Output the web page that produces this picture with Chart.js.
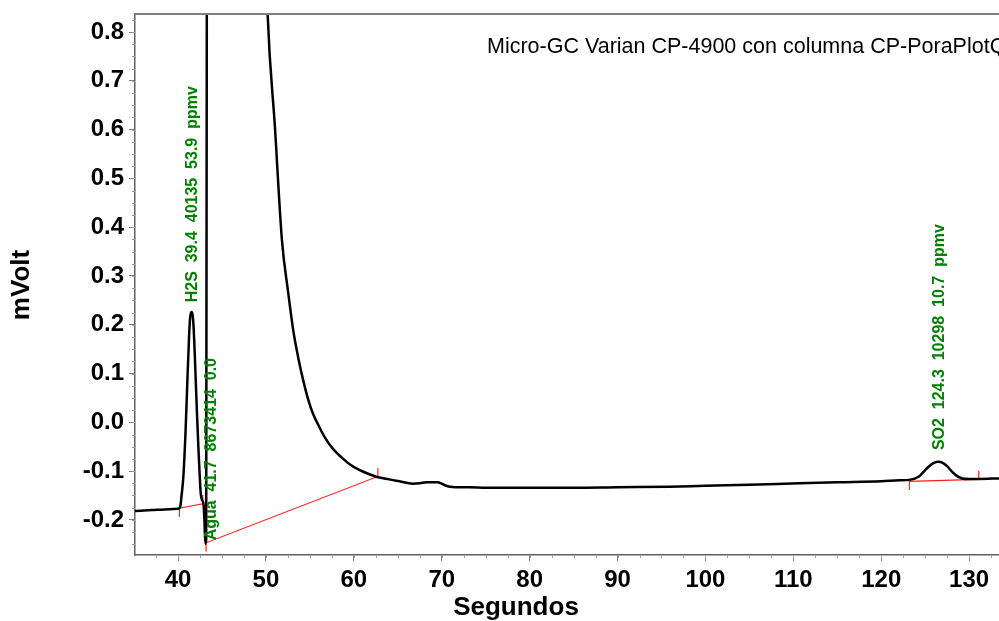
<!DOCTYPE html>
<html>
<head>
<meta charset="utf-8">
<script src="https://cdn.jsdelivr.net/npm/chart.js@4.4.1/dist/chart.umd.min.js"></script>
<style>
  html, body { margin: 0; padding: 0; background: #fff; overflow: hidden; }
  #chart { display: block; }
</style>
</head>
<body>
<canvas id="chart" width="999" height="621"></canvas>
<script>
// === DATA ===
const timeSec = [35.1, 37, 39, 40.0, 40.23, 40.4, 40.6, 40.85, 41.06, 41.25, 41.36, 41.5, 41.6, 41.74, 41.9, 42.01, 42.15, 42.31, 42.45, 42.58, 42.75, 42.88, 43.0, 43.1, 43.2, 43.3, 43.4,
  49.0, 49.5, 50.19, 51.02, 51.82, 52.5, 53.1, 53.7, 54.24, 54.8, 55.34, 56.0, 56.7, 57.6, 58.6, 59.6, 60.68, 61.7, 62.65, 64.0, 65.2, 66.7, 67.5, 68.26, 69.55, 70.0, 70.68, 72, 73.18, 75,
  80, 85, 90, 95.9, 100, 105, 110.68, 115, 120, 122.05, 123.18, 124.3, 124.9, 125.45, 126.0, 126.5, 127.0, 127.5, 128.0, 128.4, 128.8, 129.2, 130, 131.1, 133.4];
const signalMv = [-0.182, -0.180, -0.178, -0.177, -0.174, -0.150, -0.112, -0.020, 0.086, 0.175, 0.212, 0.226, 0.225, 0.203, 0.140, 0.086, 0.020, -0.051, -0.105, -0.146, -0.160, -0.166, -0.200, -0.249, -0.240, 1.5, 3.0,
  3.0, 1.3, 0.837, 0.605, 0.373, 0.270, 0.189, 0.130, 0.086, 0.047, 0.018, -0.007, -0.031, -0.054, -0.072, -0.087, -0.098, -0.106, -0.112, -0.117, -0.121, -0.126, -0.125, -0.123, -0.123, -0.126, -0.131, -0.133, -0.133, -0.134,
  -0.134, -0.134, -0.133, -0.132, -0.130, -0.128, -0.125, -0.123, -0.121, -0.119, -0.118, -0.111, -0.100, -0.090, -0.083, -0.081, -0.083, -0.090, -0.100, -0.107, -0.112, -0.115, -0.116, -0.116, -0.115];

// baselines de integracion (rojo)
const baseStartX = [40.15, 43.18, 123.2];
const baseStartY = [-0.176, -0.247, -0.121];
const baseEndX = [42.81, 62.73, 131.1];
const baseEndY = [-0.167, -0.111, -0.117];

// etiquetas de picos
const peakNames = ["H2S", "Agua", "SO2"];
const peakRetTimes = ["39.4", "41.7", "124.3"];
const peakAreas = ["40135", "8673414", "10298"];
const peakConc = ["53.9", "0.0", "10.7"];
const peakUnits = ["ppmv", "", "ppmv"];
const peakLabelX = [41.6, 43.86, 126.6];
const peakLabelY = [0.246, -0.242, -0.057];

const xTicks = [40, 50, 60, 70, 80, 90, 100, 110, 120, 130];
const yTicks = [-0.2, -0.1, 0.0, 0.1, 0.2, 0.3, 0.4, 0.5, 0.6, 0.7, 0.8];
const xRange = [35.1, 133.4];
const yRange = [-0.272, 0.837];

const chartTitle = "Micro-GC Varian CP-4900 con columna CP-PoraPlotQ";
const xTitle = "Segundos";
const yTitle = "mVolt";

// === STYLE ===
const FONT = "'Liberation Sans', Arial, sans-serif";
const MARK = 0.018; // largo de las marcas rojas (mVolt)

const datasets = [{
  data: timeSec.map((t, i) => ({ x: t, y: signalMv[i] })),
  borderColor: "#000",
  borderWidth: 2.5,
  pointRadius: 0,
  cubicInterpolationMode: "monotone",
  clip: 0
}];

baseStartX.forEach((sx, i) => {
  datasets.push({
    data: [
      { x: sx, y: baseStartY[i] - MARK },
      { x: sx, y: baseStartY[i] },
      { x: baseEndX[i], y: baseEndY[i] },
      { x: baseEndX[i], y: baseEndY[i] + MARK }
    ],
    borderColor: "#ff2020",
    borderWidth: 1.2,
    pointRadius: 0,
    tension: 0
  });
});

const decoPlugin = {
  id: "deco",
  afterDraw(chart) {
    const ctx = chart.ctx;
    const area = chart.chartArea;
    const xs = chart.scales.x, ys = chart.scales.y;
    ctx.save();

    // borde superior
    ctx.strokeStyle = "#808080";
    ctx.lineWidth = 2;
    ctx.beginPath();
    ctx.moveTo(area.left, area.top);
    ctx.lineTo(area.right, area.top);
    ctx.stroke();

    // marcas menores
    ctx.strokeStyle = "#a0a0a0";
    ctx.lineWidth = 1;
    ctx.beginPath();
    for (let v = 37.5; v < xRange[1]; v += 2.5) {
      const px = Math.round(xs.getPixelForValue(v)) + 0.5;
      ctx.moveTo(px, area.bottom);
      ctx.lineTo(px, area.bottom + 3);
    }
    for (let v = -0.25; v < yRange[1]; v += 0.025) {
      const py = Math.round(ys.getPixelForValue(v)) + 0.5;
      ctx.moveTo(area.left - 3, py);
      ctx.lineTo(area.left, py);
    }
    ctx.stroke();

    // titulo
    ctx.fillStyle = "#000";
    ctx.font = "21.5px " + FONT;
    ctx.textAlign = "left";
    ctx.textBaseline = "middle";
    ctx.fillText(chartTitle, 487, 47);

    // titulos de ejes
    ctx.font = "bold 26px " + FONT;
    ctx.textAlign = "center";
    ctx.fillText(xTitle, 516, 608);
    ctx.save();
    ctx.translate(22, 285);
    ctx.rotate(-Math.PI / 2);
    ctx.fillText(yTitle, 0, 0);
    ctx.restore();

    // etiquetas de picos
    ctx.fillStyle = "#008000";
    ctx.font = "bold 16px " + FONT;
    ctx.textAlign = "left";
    peakNames.forEach((name, i) => {
      const parts = [name, peakRetTimes[i], peakAreas[i], peakConc[i]];
      if (peakUnits[i]) parts.push(peakUnits[i]);
      ctx.save();
      ctx.translate(xs.getPixelForValue(peakLabelX[i]), ys.getPixelForValue(peakLabelY[i]));
      ctx.rotate(-Math.PI / 2);
      ctx.fillText(parts.join("  "), 0, 0);
      ctx.restore();
    });

    ctx.restore();
  }
};

new Chart(document.getElementById("chart"), {
  type: "line",
  data: { datasets },
  options: {
    responsive: false,
    animation: false,
    devicePixelRatio: 1,
    layout: { padding: { top: 14, left: 0, right: 0, bottom: 0 } },
    plugins: { legend: { display: false }, tooltip: { enabled: false } },
    scales: {
      x: {
        type: "linear",
        min: xRange[0],
        max: xRange[1],
        afterBuildTicks: s => { s.ticks = xTicks.map(v => ({ value: v })); },
        afterFit: s => { s.height = 66; s.paddingLeft = 0; s.paddingRight = 0; },
        ticks: { color: "#000", font: { family: FONT, size: 24, weight: "bold" }, padding: 5, maxRotation: 0 },
        grid: { drawOnChartArea: false, tickLength: 6, color: "#808080" },
        border: { color: "#606060", width: 1.5 }
      },
      y: {
        type: "linear",
        min: yRange[0],
        max: yRange[1],
        afterBuildTicks: s => { s.ticks = yTicks.map(v => ({ value: v })); },
        afterFit: s => { s.width = 135; s.paddingTop = 0; s.paddingBottom = 0; },
        ticks: { color: "#000", font: { family: FONT, size: 24, weight: "bold" }, padding: 5, callback: v => v.toFixed(1) },
        grid: { drawOnChartArea: false, tickLength: 6, color: "#808080" },
        border: { color: "#606060", width: 1.5 }
      }
    }
  },
  plugins: [decoPlugin]
});
</script>
</body>
</html>
